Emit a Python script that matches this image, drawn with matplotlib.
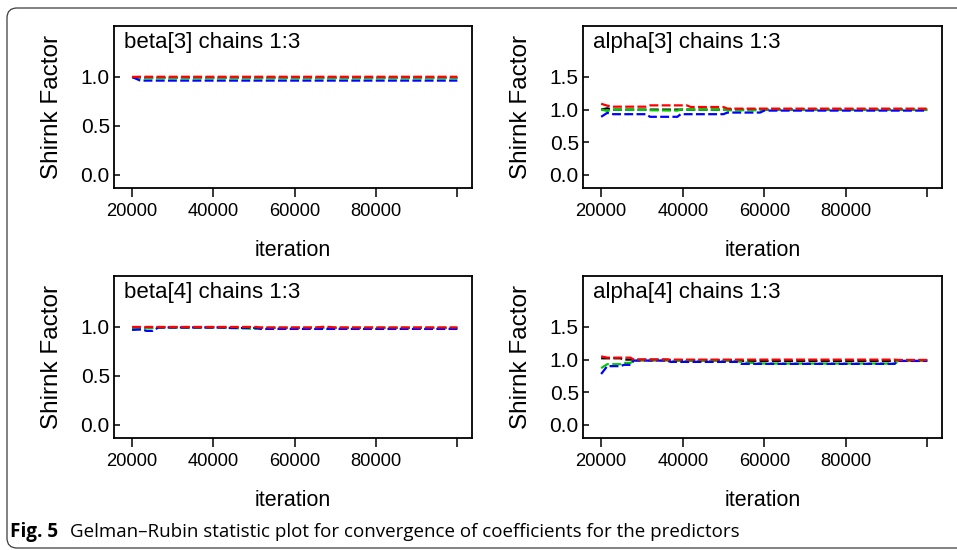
import matplotlib
matplotlib.use("Agg")
import matplotlib.pyplot as plt
from matplotlib.patches import FancyBboxPatch

plt.rcParams['font.family'] = ['Liberation Sans', 'DejaVu Sans']

# ---- data ----
beta3_iter = [20000, 22000, 100000]
beta3_black = [1.00, 0.99, 0.99]
beta3_green = [0.995, 0.99, 0.99]
beta3_blue = [1.00, 0.963, 0.963]
beta3_red = [1.00, 1.002, 1.002]

alpha3_iter = [20000, 21500, 23000, 31000, 32000, 38700, 39500, 41000, 42000,
               50000, 51000, 59000, 60000, 100000]
alpha3_black = [1.00, 1.02, 1.00, 1.00, 1.00, 1.00, 1.00, 1.00, 1.00,
                1.00, 1.00, 1.00, 1.00, 1.00]
alpha3_green = [1.00, 0.98, 1.00, 0.995, 0.99, 0.985, 1.00, 1.00, 1.00,
                1.00, 0.99, 0.99, 1.00, 1.00]
alpha3_blue = [0.89, 0.95, 0.93, 0.93, 0.89, 0.89, 0.93, 0.93, 0.93,
               0.93, 0.955, 0.955, 0.985, 0.985]
alpha3_red = [1.09, 1.06, 1.045, 1.045, 1.065, 1.065, 1.065, 1.065, 1.04,
              1.04, 1.015, 1.015, 1.015, 1.015]

beta4_iter = [20000, 22500, 23500, 25000, 26500, 42000, 44000, 48000, 50500,
              51500, 65000, 67500, 70000, 100000]
beta4_black = [0.98, 0.985, 0.99, 0.99, 0.995, 0.995, 0.99, 0.99, 0.99,
               0.99, 0.99, 0.99, 0.99, 0.99]
beta4_green = [0.985, 0.985, 0.99, 0.99, 0.995, 0.995, 0.99, 0.985, 0.98,
               0.99, 0.99, 0.99, 0.99, 0.99]
beta4_blue = [0.97, 0.975, 0.96, 0.96, 0.995, 0.995, 0.99, 0.99, 0.99,
              0.98, 0.98, 0.98, 0.98, 0.98]
beta4_red = [1.00, 1.00, 1.00, 1.00, 1.00, 1.00, 1.00, 1.00, 1.00,
             0.995, 0.995, 1.003, 0.995, 0.995]

alpha4_iter = [20000, 21500, 24700, 25600, 27200, 28000, 36200, 37000, 53400,
               54300, 60000, 92000, 92800, 100000]
alpha4_black = [1.02, 1.02, 1.02, 1.00, 1.00, 1.00, 1.00, 0.99, 0.99,
                0.98, 0.98, 0.98, 0.99, 0.99]
alpha4_green = [0.87, 0.93, 0.93, 0.95, 0.95, 0.985, 0.985, 0.98, 0.98,
                0.96, 0.94, 0.94, 0.98, 0.98]
alpha4_blue = [0.78, 0.90, 0.90, 0.92, 0.92, 0.985, 0.985, 0.965, 0.965,
               0.935, 0.935, 0.935, 0.98, 0.98]
alpha4_red = [1.05, 1.03, 1.03, 1.03, 1.03, 1.00, 1.00, 1.00, 1.00,
              1.00, 1.00, 1.00, 0.995, 0.995]

x_ticks = [20000, 40000, 60000, 80000, 100000]
x_tick_labels = ['20000', '40000', '60000', '80000', '']

W, H = 957, 550
fig = plt.figure(figsize=(W / 100, H / 100), dpi=100)


def px_box(left, top, right, bottom):
    return [left / W, 1 - bottom / H, (right - left) / W, (bottom - top) / H]


panels = [
    (px_box(114, 26, 472, 188), 'beta[3] chains 1:3', beta3_iter,
     [beta3_black, beta3_green, beta3_blue, beta3_red], False),
    (px_box(583, 26, 942, 188), 'alpha[3] chains 1:3', alpha3_iter,
     [alpha3_black, alpha3_green, alpha3_blue, alpha3_red], True),
    (px_box(114, 276, 472, 438), 'beta[4] chains 1:3', beta4_iter,
     [beta4_black, beta4_green, beta4_blue, beta4_red], False),
    (px_box(583, 276, 942, 438), 'alpha[4] chains 1:3', alpha4_iter,
     [alpha4_black, alpha4_green, alpha4_blue, alpha4_red], True),
]
colors = ['black', '#00cc00', '#0000ff', '#ff0000']

for pos, title, iters, series, wide in panels:
    ax = fig.add_axes(pos)
    for vals, c in zip(series, colors):
        ax.plot(iters, vals, color=c, lw=1.6, linestyle=(0, (4, 1.5)))
    ax.set_xlim(15550, 103600)
    if wide:
        ax.set_ylim(-0.2, 2.28)
        yt = [0.0, 0.5, 1.0, 1.5]
    else:
        ax.set_ylim(-0.133, 1.52)
        yt = [0.0, 0.5, 1.0]
    ax.set_yticks(yt)
    ax.set_yticklabels(['%.1f' % v for v in yt])
    ax.set_xticks(x_ticks)
    ax.set_xticklabels(x_tick_labels)
    ax.tick_params(axis='x', direction='out', length=6.5, width=1.1, pad=4.5,
                   labelsize=13.2)
    ax.tick_params(axis='y', direction='in', length=4.5, width=1.1, pad=3,
                   labelsize=15)
    for s in ax.spines.values():
        s.set_linewidth(1.3)
    ax.text(0.028, 0.965, title, transform=ax.transAxes, ha='left', va='top',
            fontsize=16)
    # axis labels placed in pixel terms
    l, b, w, h = pos
    fig.text(l - 62 / W, b + h / 2, 'Shirnk Factor', rotation=90,
             ha='center', va='center', fontsize=17.5)
    fig.text(l + w / 2, b - 62 / H, 'iteration', ha='center', va='center',
             fontsize=15.5)

# caption
fig.text(10 / W, 1 - 537 / H, 'Fig. 5', fontweight='bold', fontsize=13.6,
         va='baseline', ha='left', family=['Open Sans', 'DejaVu Sans'])
fig.text(70 / W, 1 - 537 / H,
         'Gelman\u2013Rubin statistic plot for convergence of coefficients for the predictors',
         fontsize=13.5, va='baseline', ha='left',
         family=['Open Sans', 'DejaVu Sans'])

# rounded frame around the figure (open to the right)
frame = FancyBboxPatch((0.07, 0.02), 12.0, 5.40,
                       boxstyle='round,pad=0,rounding_size=0.1',
                       transform=fig.dpi_scale_trans, fill=False,
                       edgecolor='#3c3c3c', lw=0.9)
fig.add_artist(frame)

fig.savefig('out.png', dpi=100)
